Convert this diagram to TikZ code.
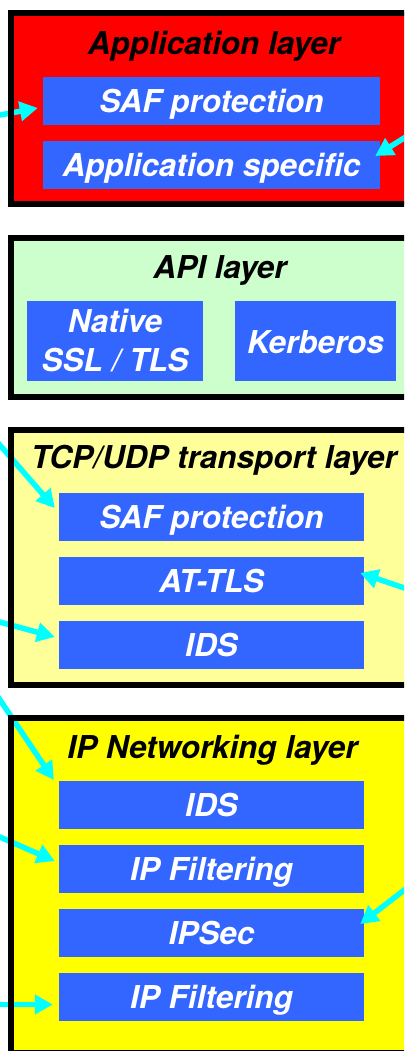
\documentclass[tikz,border=0pt]{standalone}
\usepackage{fontspec}
\newfontfamily\hv{TeX Gyre Heros}
\newcommand\hvtext{\hv\bfseries\itshape\fontsize{31.5}{39}\selectfont}
\usetikzlibrary{arrows.meta}
\definecolor{boxblue}{HTML}{3366FF}
\definecolor{arrowcyan}{HTML}{00FFFF}
\definecolor{apigreen}{HTML}{CCFFCC}
\definecolor{tcpyellow}{HTML}{FFFF99}
\definecolor{ipyellow}{HTML}{FFFF00}
\begin{document}
\begin{tikzpicture}[x=1pt,y=-1pt,
  layerborder/.style={draw=black,line width=6pt},
  secbox/.style={fill=boxblue,text=white,inner sep=0pt,font=\hvtext,text height=35.5pt,text depth=12.5pt,minimum height=48pt},
  widebox/.style={secbox,minimum width=305pt},
  appbox/.style={secbox,minimum width=337pt},
  layertitle/.style={anchor=base,font=\hvtext,text=black,inner sep=0pt},
  arr/.style={draw=arrowcyan,line width=5.5pt,-{Triangle[length=18pt,width=19pt]}}]
\useasboundingbox (0,0) rectangle (404,1051);
\clip (0,0) rectangle (404,1051);
\fill[white] (0,0) rectangle (404,1051);
% layer fills
\fill[red] (11,13) rectangle (440,204);
\fill[apigreen] (11,238) rectangle (440,397);
\fill[tcpyellow] (11,430) rectangle (440,685);
\fill[ipyellow] (11,718) rectangle (440,1053);
% titles
\node[layertitle] (tapp) at (214,54.5) {Application layer};
\node[layertitle] (tapi) at (220,278) {API layer};
\node[layertitle] (ttcp) at (214,468) {TCP/UDP transport layer};
\node[layertitle] (tip) at (212.5,758) {IP Networking layer};
% boxes
\node[appbox] (appsaf) at (211.5,101) {SAF protection};
\node[appbox] (appspec) at (211.5,165) {Application specific};
\node[fill=boxblue,text=white,inner sep=0pt,font=\hvtext,align=center,minimum width=176pt,minimum height=80pt] (native) at (115,341) {Native\\SSL / TLS};
\node[secbox,minimum width=161pt,minimum height=80pt,text height=52pt,text depth=28pt] (kerb) at (315.5,341) {Kerberos};
\node[widebox] (tcpsaf) at (211.5,517) {SAF protection};
\node[widebox] (attls) at (211.5,581) {AT-TLS};
\node[widebox] (tcpids) at (211.5,645) {IDS};
\node[widebox] (ipids) at (211.5,805) {IDS};
\node[widebox] (ipfa) at (211.5,869) {IP Filtering};
\node[widebox] (ipsec) at (211.5,933) {IPSec};
\node[widebox] (ipfb) at (211.5,997) {IP Filtering};
% arrow sources outside the picture
\coordinate (s1) at (-20,118.7);
\coordinate (s2) at (425,125);
\coordinate (s3) at (-15,428);
\coordinate (s4) at (425,595);
\coordinate (s5) at (-15,618);
\coordinate (s6) at (-10,685);
\coordinate (s7) at (-15,830.5);
\coordinate (s8) at (425,874);
\coordinate (s9) at (-15,1004.5);
% arrows
\draw[arr] (s1) -- ([shift={(-5,7)}]appsaf.west);
\draw[arr] (s2) -- ([shift={(-5,-9)}]appspec.east);
\draw[arr] (s3) -- ([shift={(-4,-9)}]tcpsaf.west);
\draw[arr] (s4) -- ([shift={(-4,-8)}]attls.east);
\draw[arr] (s5) -- ([shift={(-4,-8)}]tcpids.west);
\draw[arr] (s6) -- ([shift={(-5,-25)}]ipids.west);
\draw[arr] (s7) -- ([shift={(-4,-8)}]ipfa.west);
\draw[arr] (s8) -- ([shift={(-4,-9)}]ipsec.east);
\draw[arr] (s9) -- ([shift={(-6,7.5)}]ipfb.west);
% layer borders
\draw[layerborder] (11,13) rectangle (440,204);
\draw[layerborder] (11,238) rectangle (440,397);
\draw[layerborder] (11,430) rectangle (440,685);
\draw[layerborder] (11,718) rectangle (440,1053);
\end{tikzpicture}
\end{document}
